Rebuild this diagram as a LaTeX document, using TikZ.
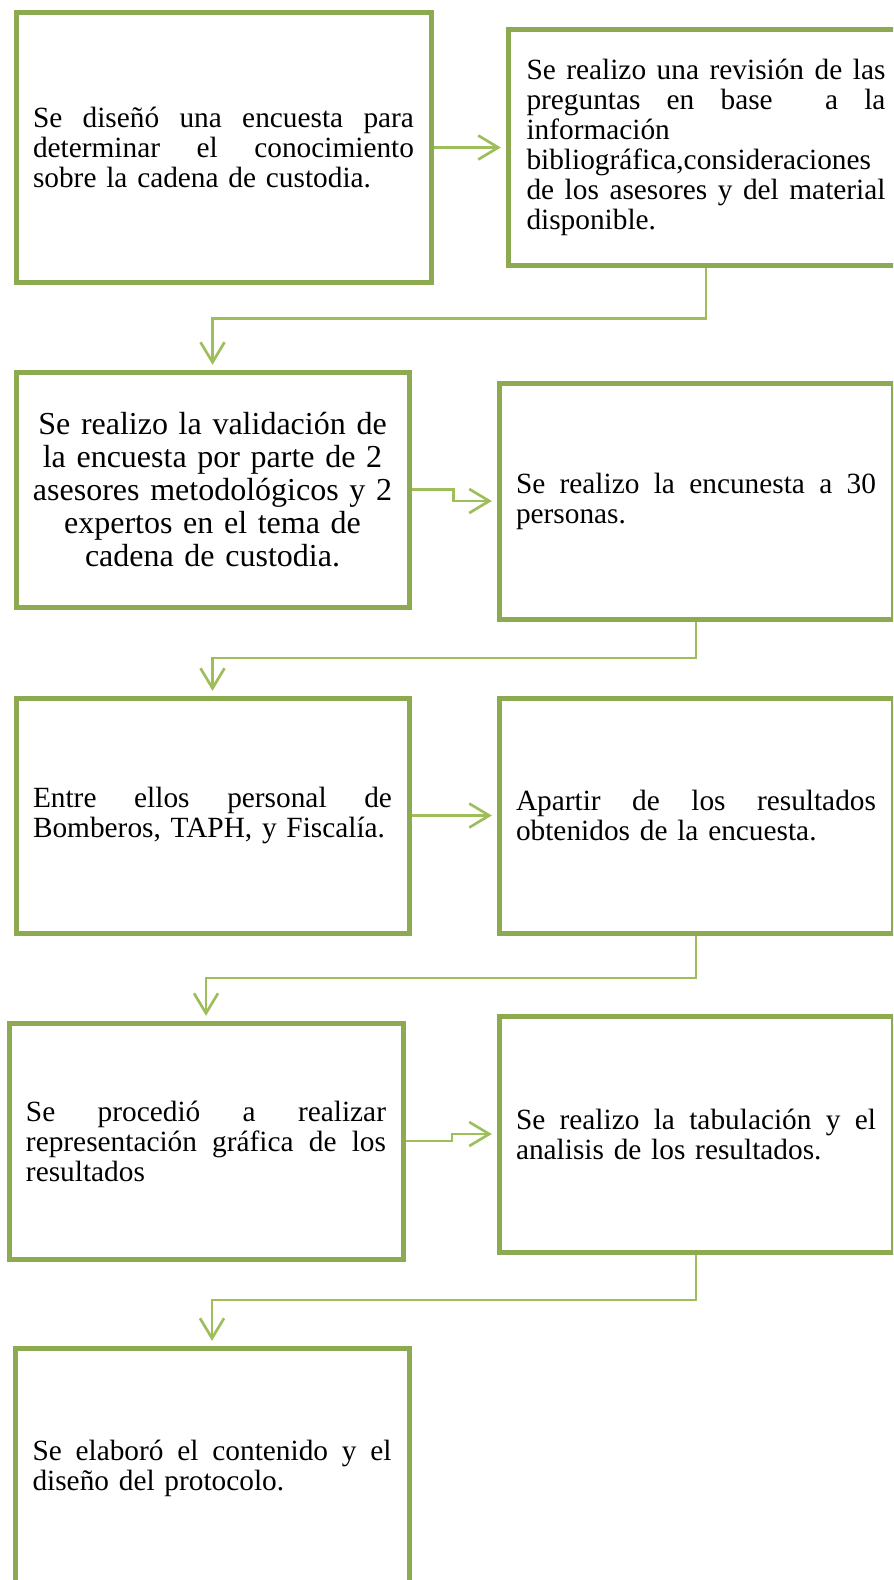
\documentclass[tikz,border=0pt]{standalone}
\usepackage{fontspec}
\setmainfont{Liberation Serif}
\usetikzlibrary{arrows.meta}
\setlength\parindent{0pt}
\definecolor{boxgreen}{RGB}{142,170,80}
\definecolor{arrgreen}{RGB}{158,190,92}
\newlength\jw
\newcommand\jline[1]{\leavevmode\hbox to\jw{\spaceskip=0.25em plus 1fill\relax #1}}
\begin{document}
\begin{tikzpicture}[x=0.75pt,y=-0.75pt,
  flowbox/.style 2 args={draw=boxgreen, line width=3.75pt, rectangle, inner sep=0pt,
    minimum width=#1*0.75pt, minimum height=#2*0.75pt, align=left},
  txt/.style={text width=#1*0.75pt, font=\fontsize{22}{22.5}\selectfont,
    execute at begin node={\global\jw=#1\dimexpr 0.75pt\relax}},
  bigtxt/.style={text width=#1*0.75pt, align=center, font=\fontsize{24}{24.75}\selectfont},
  conn/.style={draw=arrgreen, line width=2pt, shorten >=3.5pt,
    -{Straight Barb[length=15pt,width=18pt]}}]
\useasboundingbox (0,0) rectangle (893,1580);
\clip (0,0) rectangle (893,1580);

\node[flowbox={415}{269}, txt=381] (b1) at (223.5,147.5)
  {\jline{Se diseñó una encuesta para}\\\jline{determinar el conocimiento}\\sobre la cadena de custodia.};
\node[flowbox={396}{236}, txt=359] (b2) at (706,147.5)
  {\jline{Se realizo una revisión de las}\\\jline{preguntas en base\hskip 0.25em plus 1fill\relax\ a la}\\información\\bibliográfica,consideraciones\\\jline{de los asesores y del material}\\disponible.};
\node[flowbox={393}{235}, bigtxt=362] (b3) at (212.5,489.5)
  {Se realizo la validación de\\la encuesta por parte de 2\\asesores metodológicos y 2\\expertos en el tema de\\cadena de custodia.};
\node[flowbox={394}{236}, txt=360] (b4) at (696,501)
  {\jline{Se realizo la encunesta a 30}\\personas.};
\node[flowbox={393}{235}, txt=359] (b5) at (212.5,815.5)
  {\jline{Entre ellos personal de}\\Bomberos, TAPH, y Fiscalía.};
\node[flowbox={394}{235}, txt=360] (b6) at (696,815.5)
  {\jline{Apartir de los resultados}\\obtenidos de la encuesta.};
\node[flowbox={394}{236}, txt=360] (b7) at (206,1141)
  {\jline{Se procedió a realizar}\\\jline{representación gráfica de los}\\resultados};
\node[flowbox={394}{236}, txt=360] (b8) at (696,1134)
  {\jline{Se realizo la tabulación y el}\\analisis de los resultados.};
\node[flowbox={394}{240}, txt=359] (b9) at (212,1468)
  {\jline{Se elaboró el contenido y el}\\diseño del protocolo.};

\draw[conn] (b1.east) -- (b2.west);
\draw[conn] (b2.south) -- ++(0,50.5) -| (b3.north);
\draw[conn] (b3.east) -- ++(42,0) |- (b4.west);
\draw[conn] (b4.south) -- ++(0,36.5) -| (b5.north);
\draw[conn] (b5.east) -- (b6.west);
\draw[conn] (b6.south) -- ++(0,42.5) -| (b7.north);
\draw[conn] (b7.east) -- ++(46.5,0) |- (b8.west);
\draw[conn] (b8.south) -- ++(0,45.5) -| (b9.north);
\end{tikzpicture}
\end{document}
